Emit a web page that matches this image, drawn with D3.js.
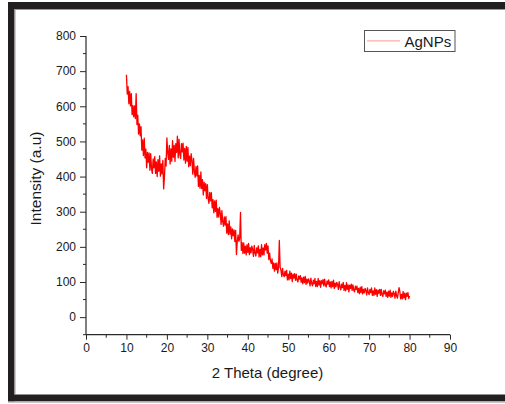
<!DOCTYPE html>
<html>
<head>
<meta charset="utf-8">
<script src="https://cdn.jsdelivr.net/npm/d3@7"></script>
<style>
  html, body { margin: 0; padding: 0; background: #fff; }
  svg { display: block; }
  text { font-family: "Liberation Sans", Arial, sans-serif; fill: #1a1a1a; }
</style>
</head>
<body>
<svg id="chart" width="505" height="404"></svg>
<script>
// ---- data ----
const seriesName = "AgNPs";
const twoThetaStart = 10;      // first sample (degree)
const twoThetaStep = 0.2;      // sampling step (degree)
// intensity, one row per degree (10..79) with 5 samples each, then 80
const intensity = [
  690, 635, 656, 607, 642,
  601, 636, 576, 602, 570,
  601, 565, 636, 548, 575,
  521, 550, 516, 542, 475,
  504, 460, 509, 453, 478,
  425, 469, 441, 467, 418,
  465, 422, 409, 450, 425,
  457, 409, 442, 400, 448,
  415, 459, 401, 436, 408,
  446, 365, 400, 452, 430,
  510, 469, 449, 489, 436,
  479, 444, 502, 455, 489,
  443, 494, 469, 515, 453,
  506, 464, 452, 494, 470,
  495, 447, 480, 438, 486,
  444, 483, 428, 458, 431,
  465, 446, 407, 452, 414,
  398, 429, 402, 430, 372,
  403, 367, 413, 366, 391,
  348, 384, 360, 380, 338,
  377, 338, 324, 355, 331,
  354, 311, 334, 297, 331,
  301, 333, 284, 309, 285,
  312, 296, 264, 303, 271,
  259, 285, 262, 286, 239,
  265, 235, 274, 236, 257,
  223, 251, 232, 248, 215,
  247, 178, 215, 234, 216,
  225, 298, 190, 212, 181,
  211, 182, 202, 177, 206,
  184, 210, 178, 198, 183,
  202, 193, 173, 204, 183,
  174, 197, 183, 203, 171,
  193, 172, 206, 177, 197,
  177, 206, 191, 210, 182,
  203, 164, 182, 160, 153,
  166, 139, 154, 131, 153,
  135, 154, 125, 140, 218,
  142, 134, 115, 139, 120,
  115, 131, 118, 133, 106,
  122, 106, 131, 110, 125,
  101, 122, 111, 124, 105,
  122, 105, 100, 117, 108,
  118, 99, 112, 95, 114,
  98, 116, 93, 108, 97,
  109, 103, 89, 111, 96,
  89, 105, 95, 110, 87,
  102, 87, 110, 91, 104,
  85, 104, 95, 107, 89,
  108, 91, 86, 103, 94,
  106, 87, 100, 83, 102,
  87, 105, 82, 97, 86,
  99, 93, 79, 101, 86,
  78, 94, 84, 99, 76,
  90, 75, 98, 79, 92,
  72, 91, 82, 94, 76,
  92, 77, 72, 88, 79,
  88, 70, 82, 67, 85,
  70, 87, 66, 79, 69,
  82, 76, 63, 83, 70,
  64, 79, 70, 83, 62,
  75, 62, 83, 65, 78,
  59, 77, 68, 79, 62,
  79, 64, 59, 75, 66,
  77, 59, 71, 56, 74,
  60, 77, 56, 69, 59,
  73, 67, 54, 74, 61,
  54, 69, 84, 73, 52,
  65, 52, 73, 55, 68,
  50, 68, 59, 70, 53,
  60
];
const xTicks = [0, 10, 20, 30, 40, 50, 60, 70, 80, 90];
const yTicks = [0, 100, 200, 300, 400, 500, 600, 700, 800];
const xTitle = "2 Theta (degree)";
const yTitle = "Intensity (a.u)";

const points = intensity.map((v, i) => ({ x: twoThetaStart + i * twoThetaStep, y: v }));

// ---- drawing ----
const svg = d3.select("#chart");
svg.append("rect").attr("width", 505).attr("height", 404).attr("fill", "#fff");

// outer frame
const frameColor = "#231f20";
svg.append("rect").attr("x", 8).attr("y", 2).attr("width", 497).attr("height", 7).attr("fill", frameColor);
svg.append("rect").attr("x", 8).attr("y", 2).attr("width", 6.5).attr("height", 399.5).attr("fill", frameColor);
svg.append("rect").attr("x", 8).attr("y", 394.5).attr("width", 497).attr("height", 7).attr("fill", frameColor);
svg.append("rect").attr("x", 14.5).attr("y", 9).attr("width", 490.5).attr("height", 1).attr("fill", "#9a9a9a");
svg.append("rect").attr("x", 14.5).attr("y", 9).attr("width", 1).attr("height", 385.5).attr("fill", "#9a9a9a");
svg.append("rect").attr("x", 8).attr("y", 401.5).attr("width", 497).attr("height", 1.5).attr("fill", "#c8c8c8");

const x = d3.scaleLinear().domain([0, 90]).range([86, 450]);
const y = d3.scaleLinear().domain([-50, 800]).range([334.7, 36]);

// data line
const line = d3.line().x(d => x(d.x)).y(d => y(d.y));
svg.append("path")
  .datum(points)
  .attr("fill", "none")
  .attr("stroke", "#ff0000")
  .attr("stroke-width", 1.3)
  .attr("stroke-linejoin", "round")
  .attr("d", line);

// axes
const axisColor = "#2a2a2a";
const xAxis = d3.axisBottom(x).tickValues(xTicks).tickSize(5).tickPadding(4).tickFormat(d3.format("d"));
const gx = svg.append("g").attr("transform", `translate(0,${y(-50)})`).call(xAxis);
const xMinor = d3.range(5, 90, 10);
gx.selectAll(".minor").data(xMinor).enter().append("line")
  .attr("x1", d => x(d)).attr("x2", d => x(d)).attr("y1", 0).attr("y2", 3)
  .attr("stroke", axisColor);

const yAxis = d3.axisLeft(y).tickValues(yTicks).tickSize(6).tickPadding(4).tickFormat(d3.format("d"));
const gy = svg.append("g").attr("transform", `translate(${x(0)},0)`).call(yAxis);
const yMinor = d3.range(50, 800, 100).concat([-50]);
gy.selectAll(".minor").data(yMinor).enter().append("line")
  .attr("x1", 0).attr("x2", -3).attr("y1", d => y(d)).attr("y2", d => y(d))
  .attr("stroke", axisColor);

[gx, gy].forEach(g => {
  g.select(".domain").attr("stroke", axisColor).attr("stroke-width", 1.2);
  g.selectAll(".tick line").attr("stroke", axisColor);
  g.selectAll(".tick text").attr("font-size", 12).attr("font-family", "Liberation Sans, Arial, sans-serif").attr("fill", "#1a1a1a");
});
gy.select(".domain").attr("d", `M-0,${y(800)}H0V${y(-50)}H0`);
gx.select(".domain").attr("d", `M${x(0)},0V0H${x(90)}V0`);

// titles
svg.append("text").attr("x", 267.5).attr("y", 378).attr("text-anchor", "middle")
  .attr("font-size", 15).text(xTitle);
svg.append("text").attr("transform", "translate(40.5,178.5) rotate(-90)").attr("text-anchor", "middle")
  .attr("font-size", 15.5).text(yTitle);

// legend
const lg = svg.append("g");
lg.append("rect").attr("x", 364.5).attr("y", 30.5).attr("width", 90.5).attr("height", 21)
  .attr("fill", "#fff").attr("stroke", "#555").attr("stroke-width", 1);
lg.append("line").attr("x1", 367).attr("x2", 400).attr("y1", 40.8).attr("y2", 40.8)
  .attr("stroke", "#ffaaaa").attr("stroke-width", 1.3);
lg.append("text").attr("x", 404.5).attr("y", 46.5).attr("font-size", 15).text(seriesName);
</script>
</body>
</html>
